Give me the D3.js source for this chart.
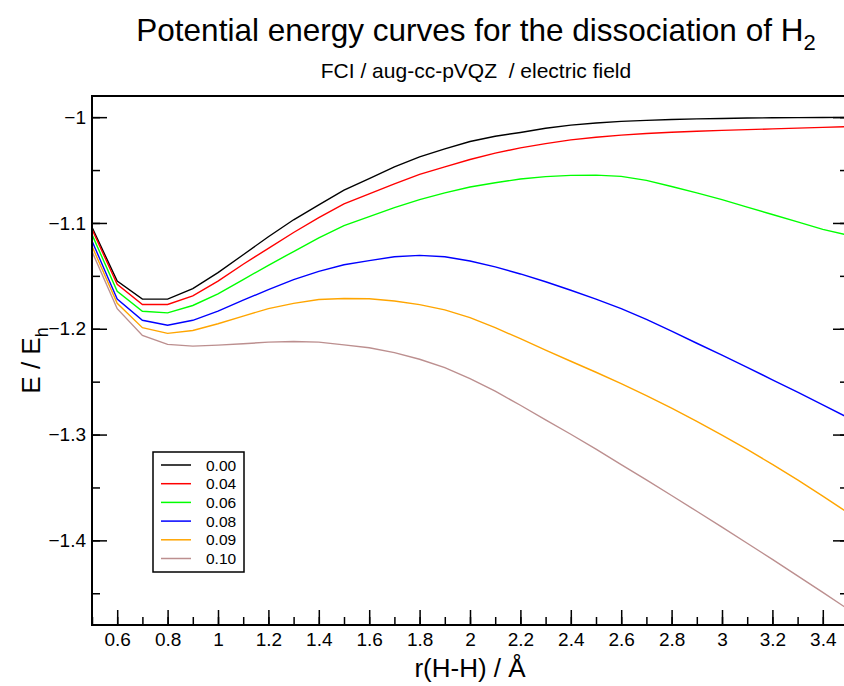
<!DOCTYPE html>
<html>
<head>
<meta charset="utf-8">
<script src="https://cdn.jsdelivr.net/npm/d3@7"></script>
<style>
  body { margin: 0; background: #fff; }
  svg { font-family: "Liberation Sans", Arial, sans-serif; }
</style>
</head>
<body>
<svg id="chart" width="844" height="686"></svg>
<script>
// bond length r(H-H) in angstrom
var distances = [0.5, 0.6, 0.7, 0.8, 0.9, 1.0, 1.1, 1.2, 1.3, 1.4, 1.5, 1.6, 1.7, 1.8, 1.9, 2.0,
  2.1, 2.2, 2.3, 2.4, 2.5, 2.6, 2.7, 2.8, 2.9, 3.0, 3.1, 3.2, 3.3, 3.4, 3.5];

// energies (Eh) per field strength
var field000 = [-1.104, -1.155, -1.172, -1.172, -1.162, -1.147, -1.130, -1.113, -1.097, -1.083, -1.069,
  -1.058, -1.047, -1.0375, -1.030, -1.023, -1.018, -1.0145, -1.0105, -1.0075, -1.0055,
  -1.004, -1.003, -1.0022, -1.0016, -1.0012, -1.0008, -1.0006, -1.0004, -1.0003, -1.0002];
var field004 = [-1.106, -1.158, -1.177, -1.177, -1.169, -1.155, -1.139, -1.124, -1.109, -1.095, -1.082,
  -1.0725, -1.063, -1.054, -1.047, -1.040, -1.034, -1.029, -1.025, -1.0215, -1.019,
  -1.017, -1.0155, -1.0143, -1.0133, -1.0125, -1.0118, -1.0111, -1.0104, -1.0097, -1.009];
var field006 = [-1.111, -1.1645, -1.1834, -1.185, -1.178, -1.167, -1.1535, -1.140, -1.127, -1.114, -1.1025,
  -1.094, -1.0855, -1.078, -1.0715, -1.066, -1.062, -1.0585, -1.0562, -1.055, -1.0548,
  -1.056, -1.0598, -1.0655, -1.0715, -1.078, -1.085, -1.092, -1.099, -1.106, -1.1115];
var field008 = [-1.117, -1.172, -1.192, -1.1966, -1.192, -1.1834, -1.173, -1.163, -1.1535, -1.1457, -1.1395,
  -1.1356, -1.132, -1.1306, -1.132, -1.136, -1.1415, -1.1482, -1.1556, -1.1636, -1.1720,
  -1.1810, -1.1912, -1.2022, -1.2137, -1.2250, -1.2365, -1.2482, -1.2600, -1.2720, -1.2840];
var field009 = [-1.122, -1.176, -1.199, -1.2044, -1.2016, -1.1953, -1.188, -1.181, -1.176, -1.1724, -1.1714,
  -1.1716, -1.1737, -1.1772, -1.1822, -1.1894, -1.1990, -1.2094, -1.2201, -1.2307, -1.2411,
  -1.2518, -1.2631, -1.2750, -1.2875, -1.3005, -1.3140, -1.3282, -1.3429, -1.3582, -1.3740];
var field010 = [-1.127, -1.181, -1.2063, -1.2148, -1.2164, -1.2155, -1.2142, -1.2126, -1.212, -1.2126, -1.2152,
  -1.2180, -1.2225, -1.2288, -1.2368, -1.2472, -1.2590, -1.2723, -1.2861, -1.2997, -1.3138,
  -1.3284, -1.3429, -1.3576, -1.3725, -1.3875, -1.4027, -1.4180, -1.4335, -1.4492, -1.4650];

var fieldLabels = ["0.00", "0.04", "0.06", "0.08", "0.09", "0.10"];
var fieldColors = ["#000000", "#ff0000", "#00ff00", "#0000ff", "#ffa500", "#bc8f8f"];
var allSeries = [field000, field004, field006, field008, field009, field010];

var xTicks = [0.6, 0.8, 1.0, 1.2, 1.4, 1.6, 1.8, 2.0, 2.2, 2.4, 2.6, 2.8, 3.0, 3.2, 3.4];
var yTicks = [-1.0, -1.1, -1.2, -1.3, -1.4];

var plotLeft = 92, plotRight = 848, plotTop = 96, plotBottom = 625;

var svg = d3.select("#chart");

var x = d3.scaleLinear().domain([0.5, 3.5]).range([plotLeft, plotRight]);
var y = d3.scaleLinear().domain([-1.48, -0.98]).range([plotBottom, plotTop]);

// minor ticks
var xMinor = d3.range(0.5, 3.51, 0.1).map(function(v) { return +v.toFixed(2); });
var yMinor = d3.range(-1.45, -0.99, 0.05).map(function(v) { return +v.toFixed(2); });

svg.append("g")
  .attr("transform", "translate(0," + plotBottom + ")")
  .call(d3.axisBottom(x).tickValues(xMinor).tickSize(-8).tickFormat(""))
  .call(function(g) { g.select(".domain").remove(); });
svg.append("g")
  .attr("transform", "translate(" + plotLeft + ",0)")
  .call(d3.axisLeft(y).tickValues(yMinor).tickSize(-8).tickFormat(""))
  .call(function(g) { g.select(".domain").remove(); });
svg.append("g")
  .attr("transform", "translate(" + plotRight + ",0)")
  .call(d3.axisRight(y).tickValues(yMinor).tickSize(-8).tickFormat(""))
  .call(function(g) { g.select(".domain").remove(); });

// major ticks with labels
var xAxis = svg.append("g")
  .attr("transform", "translate(0," + plotBottom + ")")
  .call(d3.axisBottom(x).tickValues(xTicks).tickSize(-15).tickPadding(8)
    .tickFormat(function(d) { return d3.format("")(+d.toFixed(1)); }));
xAxis.select(".domain").remove();
xAxis.selectAll("text").attr("font-size", 19).attr("fill", "#000")
  .attr("font-family", "Liberation Sans, Arial, sans-serif");

var yAxis = svg.append("g")
  .attr("transform", "translate(" + plotLeft + ",0)")
  .call(d3.axisLeft(y).tickValues(yTicks).tickSize(-15).tickPadding(6)
    .tickFormat(function(d) { return d3.format("")(+d.toFixed(1)); }));
yAxis.select(".domain").remove();
yAxis.selectAll("text").attr("font-size", 19).attr("fill", "#000")
  .attr("font-family", "Liberation Sans, Arial, sans-serif");

svg.append("g")
  .attr("transform", "translate(" + plotRight + ",0)")
  .call(d3.axisRight(y).tickValues(yTicks).tickSize(-15).tickFormat(""))
  .call(function(g) { g.select(".domain").remove(); });

svg.selectAll(".tick line").attr("stroke", "#000").attr("stroke-width", 1.5);

// curves
var line = d3.line()
  .x(function(d, i) { return x(distances[i]); })
  .y(function(d) { return y(d); });

svg.selectAll("path.curve")
  .data(allSeries)
  .enter()
  .append("path")
  .attr("class", "curve")
  .attr("d", line)
  .attr("fill", "none")
  .attr("stroke", function(d, i) { return fieldColors[i]; })
  .attr("stroke-width", 1.4);

// frame
svg.append("rect")
  .attr("x", plotLeft).attr("y", plotTop)
  .attr("width", plotRight - plotLeft).attr("height", plotBottom - plotTop)
  .attr("fill", "none").attr("stroke", "#000").attr("stroke-width", 2);

// legend
var legend = svg.append("g");
legend.append("rect")
  .attr("x", 153).attr("y", 452).attr("width", 91).attr("height", 120)
  .attr("fill", "#fff").attr("stroke", "#000").attr("stroke-width", 1.5);
fieldLabels.forEach(function(lab, i) {
  var ly = 465 + i * 18.7;
  legend.append("line")
    .attr("x1", 161).attr("x2", 191).attr("y1", ly).attr("y2", ly)
    .attr("stroke", fieldColors[i]).attr("stroke-width", 1.5);
  legend.append("text")
    .attr("x", 206).attr("y", ly).attr("dy", "0.36em")
    .attr("font-size", 15.5).text(lab);
});

// titles
var title = svg.append("text")
  .attr("x", 476).attr("y", 41).attr("text-anchor", "middle").attr("font-size", 31.5);
title.append("tspan").text("Potential energy curves for the dissociation of H");
title.append("tspan").attr("font-size", 22).attr("dy", 9).text("2");

svg.append("text")
  .attr("x", 476).attr("y", 78).attr("text-anchor", "middle").attr("font-size", 21)
  .style("white-space", "pre")
  .text("FCI / aug-cc-pVQZ  / electric field");

svg.append("text")
  .attr("x", 470).attr("y", 677).attr("text-anchor", "middle").attr("font-size", 26)
  .text("r(H-H) / Å");

var ylab = svg.append("text")
  .attr("transform", "translate(40," + ((plotTop + plotBottom) / 2) + ") rotate(-90)")
  .attr("text-anchor", "middle").attr("font-size", 26);
ylab.append("tspan").text("E / E");
ylab.append("tspan").attr("font-size", 18).attr("dy", 8).text("h");
</script>
</body>
</html>
